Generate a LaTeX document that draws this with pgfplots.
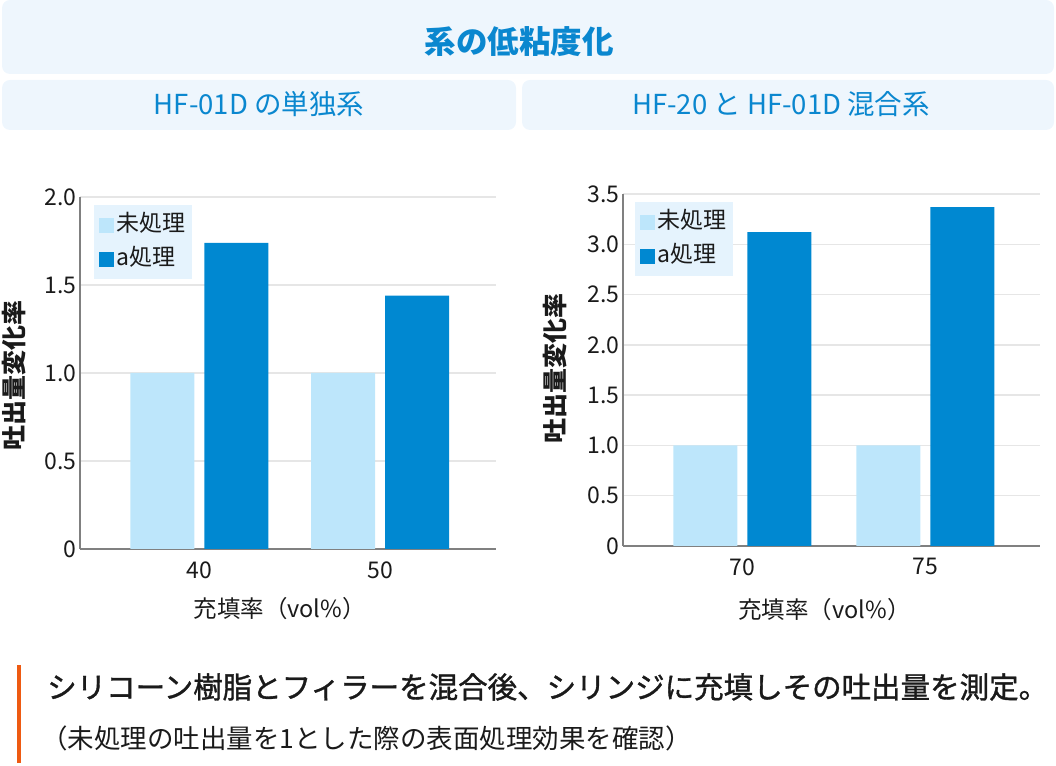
\documentclass[border=0pt]{standalone}
\usepackage{fontspec}
\setmainfont{Noto Sans CJK JP}
\newfontfamily\medfont[FakeBold=1.2]{Noto Sans CJK JP}
\usepackage{pgfplots}
\pgfplotsset{compat=1.18}

\definecolor{barlight}{HTML}{BDE6FB}
\definecolor{bardark}{HTML}{0088D1}
\definecolor{axisgray}{HTML}{808080}
\definecolor{gridgray}{HTML}{E6E6E6}
\definecolor{legbg}{HTML}{E5F3FD}
\definecolor{headbg}{HTML}{EEF6FD}
\definecolor{headblue}{HTML}{0A87CF}
\definecolor{accent}{HTML}{EE5A12}
\definecolor{txt}{HTML}{1A1A1A}

\pgfplotsset{
  flowchart/.style={
    scale only axis,
    ybar=10pt,
    bar width=64pt,
    ymin=0,
    xtick={0,1},
    axis x line*=bottom,
    axis y line*=left,
    axis line style={axisgray, line width=1.5pt},
    major tick length=0pt,
    ymajorgrids=true,
    grid style={gridgray, line width=1.5pt},
    /pgf/number format/assume math mode=true,
    tick label style={font=\fontsize{23}{23}\selectfont, text=txt},
    xticklabel style={yshift=-9pt},
    xlabel={充填率（vol\%）},
    ylabel={\bfseries 吐出量変化率},
    xlabel style={font=\fontsize{23.5}{23.5}\selectfont, text=txt},
    ylabel style={font=\fontsize{25}{25}\selectfont, text=txt},
    legend cell align=left,
    legend style={anchor=north west, fill=legbg, draw=none,
      font=\fontsize{23}{23}\selectfont, text=txt,
      inner xsep=5pt, inner ysep=3pt,
      nodes={inner xsep=2pt, inner ysep=4pt, text height=19pt, text depth=7pt}},
  },
  sq/.style={legend image code/.code={\draw[##1,draw=none] (3pt,-7.5pt) rectangle (18pt,7.5pt);}},
}

\begin{document}
\begin{tikzpicture}[x=1pt,y=1pt]
\useasboundingbox (0,0) rectangle (1056,765);

% header boxes
\fill[headbg, rounded corners=8pt] (2,691) rectangle (1054,765);
\fill[headbg, rounded corners=8pt] (2,635) rectangle (516,685);
\fill[headbg, rounded corners=8pt] (522,635) rectangle (1054,685);
\node[text=headblue, font=\fontsize{31.5}{31.5}\selectfont\bfseries] at (519,723) {系の低粘度化};
\node[text=headblue, font=\fontsize{27.5}{27.5}\selectfont] at (259,661) {HF-01D の単独系};
\node[text=headblue, font=\fontsize{27.5}{27.5}\selectfont] at (781,661) {HF-20 と HF-01D 混合系};

% left chart
\begin{axis}[flowchart,
  at={(80pt,216pt)}, anchor=south west,
  width=416pt, height=352pt,
  xmin=-0.66, xmax=1.64, ymax=2.0,
  xticklabels={40,50},
  ytick={0,0.5,1,1.5,2},
  yticklabels={0,0.5,1.0,1.5,2.0},
  xlabel style={at={(axis description cs:0.48,-0.168)}, anchor=center},
  ylabel style={at={(axis description cs:-0.159,0.494)}, anchor=center},
  legend style={at={(axis description cs:0.034,0.977)}},
]
\addplot[fill=barlight, draw=none, sq] coordinates {(0,1.0) (1,1.0)};
\addlegendentry{未処理}
\addplot[fill=bardark, draw=none, sq] coordinates {(0,1.74) (1,1.44)};
\addlegendentry{a処理}
\end{axis}

% right chart
\begin{axis}[flowchart,
  at={(623pt,219pt)}, anchor=south west,
  width=417pt, height=352pt,
  xmin=-0.653, xmax=1.626, ymax=3.5,
  xticklabels={70,75},
  ytick={0,0.5,1,1.5,2,2.5,3,3.5},
  yticklabels={0,0.5,1.0,1.5,2.0,2.5,3.0,3.5},
  xlabel style={at={(axis description cs:0.483,-0.18)}, anchor=center},
  ylabel style={at={(axis description cs:-0.163,0.503)}, anchor=center},
  legend style={at={(axis description cs:0.029,0.977)}},
]
\addplot[fill=barlight, draw=none, sq] coordinates {(0,1.0) (1,1.0)};
\addlegendentry{未処理}
\addplot[fill=bardark, draw=none, sq] coordinates {(0,3.12) (1,3.37)};
\addlegendentry{a処理}
\end{axis}

% note
\fill[accent] (17,2) rectangle (21,100);
\node[anchor=west, text=txt, font=\fontsize{29.5}{29.5}\medfont, inner sep=0pt] at (47,78) {シリコーン樹脂とフィラーを混合後、シリンジに充填しその吐出量を測定。};
\node[anchor=west, text=txt, font=\fontsize{26.5}{26.5}\selectfont, inner sep=0pt] at (41,27) {（未処理の吐出量を1とした際の表面処理効果を確認）};
\end{tikzpicture}
\end{document}
